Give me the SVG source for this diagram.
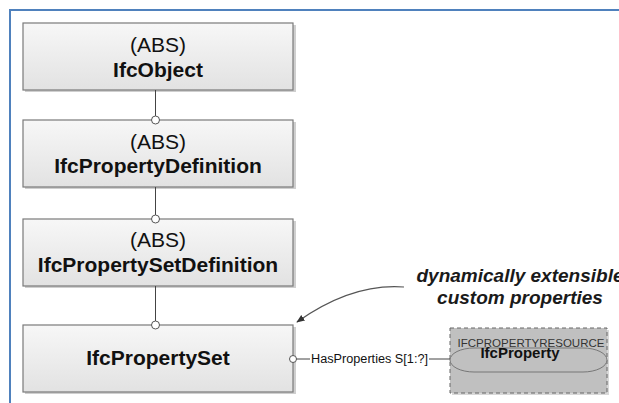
<svg xmlns="http://www.w3.org/2000/svg" width="619" height="403" viewBox="0 0 619 403">
  <defs>
    <linearGradient id="boxFill" x1="0" y1="0" x2="0" y2="1">
      <stop offset="0" stop-color="#f7f7f7"/>
      <stop offset="1" stop-color="#e2e2e2"/>
    </linearGradient>
    <marker id="arrowHead" viewBox="0 0 10 10" refX="9" refY="5" markerWidth="7" markerHeight="7" orient="auto">
      <path d="M0,1 L10,5 L0,9 z" fill="#333"/>
    </marker>
    <style>
      .entity { fill: url(#boxFill); stroke: #7a7a7a; stroke-width: 1.2; }
      .shadow { fill: #cfcfcf; }
      .abs { font-family: "Liberation Sans", Arial, sans-serif; font-size: 21px; fill: #111; text-anchor: middle; }
      .name { font-family: "Liberation Sans", Arial, sans-serif; font-size: 21px; font-weight: bold; fill: #111; text-anchor: middle; }
      .link { stroke: #444; stroke-width: 1; fill: none; }
      .port { fill: #fff; stroke: #555; stroke-width: 1; }
      .note { font-family: "Liberation Sans", Arial, sans-serif; font-size: 19px; font-weight: bold; font-style: italic; fill: #1a1a1a; text-anchor: middle; }
      .label { font-family: "Liberation Sans", Arial, sans-serif; font-size: 12.5px; fill: #111; }
    </style>
  </defs>

  <rect width="619" height="403" fill="#fff"/>

  <!-- frame -->
  <path d="M10,403 V10 H619" fill="none" stroke="#4f81bd" stroke-width="2"/>

  <g id="IfcObject">
    <rect class="shadow" x="25" y="25" width="271" height="67"/>
    <rect class="entity" x="23" y="23" width="270" height="67"/>
    <text class="abs" x="158" y="52">(ABS)</text>
    <text class="name" x="158" y="77">IfcObject</text>
  </g>

  <g id="IfcPropertyDefinition">
    <rect class="shadow" x="25" y="122" width="271" height="67"/>
    <rect class="entity" x="23" y="120" width="270" height="67"/>
    <text class="abs" x="158" y="149">(ABS)</text>
    <text class="name" x="158" y="173">IfcPropertyDefinition</text>
  </g>

  <g id="IfcPropertySetDefinition">
    <rect class="shadow" x="25" y="221" width="271" height="67"/>
    <rect class="entity" x="23" y="219" width="270" height="67"/>
    <text class="abs" x="158" y="247">(ABS)</text>
    <text class="name" x="158" y="272">IfcPropertySetDefinition</text>
  </g>

  <g id="IfcPropertySet">
    <rect class="shadow" x="25" y="327" width="271" height="67"/>
    <rect class="entity" x="23" y="325" width="270" height="67"/>
    <text class="name" x="158" y="365">IfcPropertySet</text>
  </g>

  <g id="IfcPropertyResource">
    <rect x="452" y="330" width="157" height="65" fill="#d8d8d8"/>
    <rect x="450" y="328" width="157" height="65" fill="#c0c0c0" stroke="#666" stroke-width="1" stroke-dasharray="4,3"/>
    <text x="531" y="347" font-family="'Liberation Sans', Arial, sans-serif" font-size="11.5" fill="#333" text-anchor="middle" textLength="147" lengthAdjust="spacingAndGlyphs">IFCPROPERTYRESOURCE</text>
  </g>

  <g id="IfcProperty">
    <rect x="450" y="348" width="157" height="24" rx="24" ry="12" fill="#c0c0c0" stroke="#777" stroke-width="1"/>
    <text x="520" y="358" font-family="'Liberation Sans', Arial, sans-serif" font-size="15" font-weight="bold" fill="#111" text-anchor="middle">IfcProperty</text>
  </g>

  <!-- connectors: inheritance links and the HasProperties relation -->
  <g id="connectors">
    <line class="link" x1="155.5" y1="90" x2="155.5" y2="116"/>
    <circle class="port" cx="155.5" cy="120" r="4"/>
    <line class="link" x1="155.5" y1="187" x2="155.5" y2="215"/>
    <circle class="port" cx="155.5" cy="219" r="4"/>
    <line class="link" x1="155.5" y1="286" x2="155.5" y2="321"/>
    <circle class="port" cx="155.5" cy="325" r="4"/>
    <circle class="port" cx="293" cy="359" r="3.5"/>
    <line class="link" x1="296.5" y1="359" x2="310" y2="359"/>
    <text class="label" x="311" y="363" textLength="117" lengthAdjust="spacingAndGlyphs">HasProperties S[1:?]</text>
    <line class="link" x1="429" y1="359" x2="450" y2="359"/>
    <path d="M404,287 Q352,283 297,322" fill="none" stroke="#555" stroke-width="1.2" marker-end="url(#arrowHead)"/>
  </g>

  <!-- annotation -->
  <g id="note">
    <text class="note" x="520" y="282">dynamically extensible</text>
    <text class="note" x="520" y="304">custom properties</text>
  </g>
</svg>
